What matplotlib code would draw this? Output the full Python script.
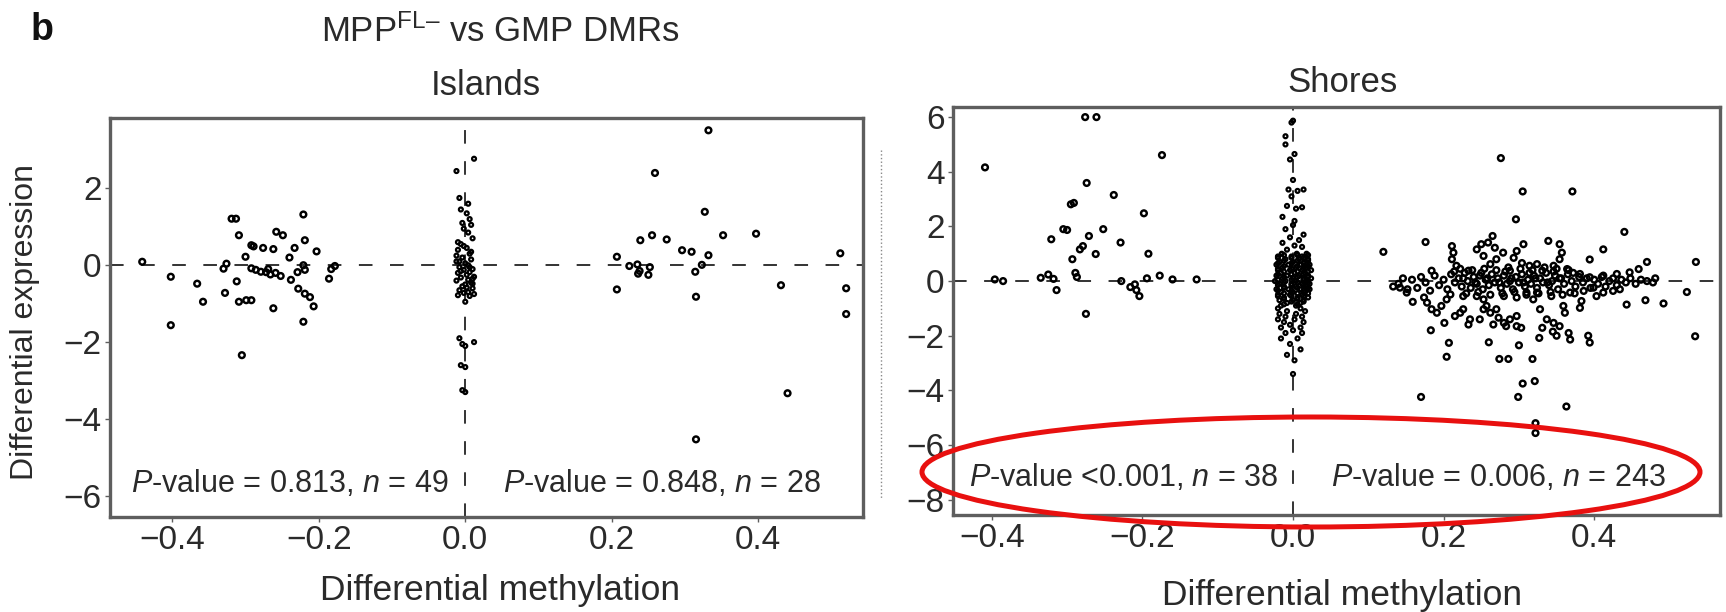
import matplotlib
matplotlib.use("Agg")
import matplotlib.pyplot as plt
from matplotlib.patches import Ellipse
from matplotlib.lines import Line2D

plt.rcParams['font.family'] = ['Liberation Sans', 'DejaVu Sans']
plt.rcParams['mathtext.fontset'] = 'custom'
plt.rcParams['mathtext.rm'] = 'Liberation Sans'
plt.rcParams['mathtext.it'] = 'Liberation Sans:italic'

# ---- Islands: negative DMRs, positive DMRs, genes without DMR at 0
isl_neg_x = [-0.441, -0.402, -0.402, -0.366, -0.358, -0.328, -0.330, -0.326, -0.319, -0.313,
             -0.309, -0.312, -0.309, -0.299, -0.292, -0.305, -0.300, -0.292, -0.289, -0.276,
             -0.262, -0.292, -0.286, -0.279, -0.272, -0.266, -0.259, -0.252, -0.269, -0.258,
             -0.249, -0.262, -0.233, -0.240, -0.229, -0.238, -0.221, -0.219, -0.203, -0.221,
             -0.219, -0.228, -0.219, -0.212, -0.207, -0.221, -0.183, -0.178, -0.186]
isl_neg_y = [0.09, -0.30, -1.56, -0.48, -0.95, -0.72, -0.09, 0.04, 1.21, 1.21,
             0.78, -0.42, -0.95, -0.91, -0.91, -2.34, 0.22, 0.52, 0.49, 0.45,
             0.42, -0.08, -0.12, -0.17, -0.18, -0.24, -0.20, -0.28, -0.10, 0.87,
             0.78, -1.12, 0.45, 0.20, -0.18, -0.38, 1.32, 0.65, 0.36, 0.00,
             -0.12, -0.61, -0.74, -0.83, -1.07, -1.47, -0.10, -0.02, -0.35]

isl_pos_x = [0.332, 0.259, 0.327, 0.352, 0.397, 0.239, 0.255, 0.275, 0.296, 0.309,
             0.332, 0.207, 0.224, 0.235, 0.238, 0.252, 0.236, 0.250, 0.314, 0.323,
             0.207, 0.315, 0.431, 0.440, 0.315, 0.512, 0.520, 0.520]
isl_pos_y = [3.51, 2.40, 1.39, 0.78, 0.82, 0.65, 0.78, 0.67, 0.39, 0.35,
             0.26, 0.22, -0.02, 0.02, -0.15, -0.05, -0.22, -0.25, -0.17, 0.01,
             -0.63, -0.82, -0.52, -3.33, -4.53, 0.31, -0.60, -1.27]

isl_zero_x = [0.012, -0.012, -0.008, 0.004, -0.006, 0.002, 0.006, -0.004, 0.008, -0.002,
              0.004, 0.010, -0.006, 0.002, -0.010, 0.006, -0.004, 0.008, -0.012, 0.000,
              0.004, -0.008, 0.010, -0.002, 0.006, -0.010, 0.002, 0.012, -0.006, 0.004,
              -0.012, 0.008, 0.000, -0.004, 0.010, -0.008, 0.004, -0.002, 0.012, -0.010,
              0.006, 0.000, -0.008, 0.012, -0.004, 0.000, -0.006, 0.000, -0.004, 0.000,
              -0.010, 0.008, -0.006, 0.010, 0.002, -0.012, 0.006, -0.002, 0.010, -0.008]
isl_zero_y = [2.77, 2.45, 1.75, 1.60, 1.45, 1.35, 1.20, 1.10, 1.05, 0.95,
              0.85, 0.70, 0.55, 0.45, 0.40, 0.30, 0.20, 0.15, 0.10, 0.05,
              0.00, -0.05, -0.10, -0.12, -0.18, -0.20, -0.25, -0.30, -0.32, -0.38,
              -0.40, -0.45, -0.50, -0.55, -0.60, -0.65, -0.70, -0.72, -0.75, -0.78,
              -0.80, -0.95, -1.90, -2.00, -2.05, -2.10, -2.60, -2.65, -3.25, -3.30,
              0.60, 0.35, -0.15, -0.35, -0.58, 0.25, -0.05, 0.50, -0.48, 0.10]

# ---- Shores
sho_neg_x = [-0.409, -0.276, -0.261, -0.174, -0.274, -0.238, -0.295, -0.291, -0.198, -0.300,
             -0.305, -0.321, -0.252, -0.271, -0.229, -0.279, -0.283, -0.262, -0.293, -0.192,
             -0.396, -0.385, -0.335, -0.325, -0.318, -0.314, -0.289, -0.287, -0.228, -0.216,
             -0.210, -0.204, -0.208, -0.194, -0.177, -0.160, -0.128, -0.275]
sho_neg_y = [4.16, 6.00, 6.00, 4.61, 3.59, 3.15, 2.81, 2.86, 2.48, 1.87,
             1.90, 1.53, 1.90, 1.65, 1.41, 1.28, 1.16, 0.99, 0.80, 1.00,
             0.06, 0.00, 0.12, 0.24, 0.08, -0.33, 0.30, 0.15, 0.00, -0.22,
             -0.12, -0.55, -0.33, 0.10, 0.20, 0.06, 0.06, -1.20]

sho_pos_x = [
    # upper part of the band
    0.211, 0.213, 0.211, 0.217, 0.244, 0.250, 0.259, 0.265, 0.268, 0.253,
    0.270, 0.279, 0.262, 0.297, 0.306, 0.293, 0.304, 0.314, 0.324, 0.339,
    0.354, 0.357, 0.354, 0.346, 0.331, 0.364, 0.288, 0.233, 0.184, 0.470,
    0.459, 0.447, 0.430, 0.412, 0.394, 0.381,
    # along zero
    0.133, 0.140, 0.146, 0.152, 0.158, 0.165, 0.170, 0.176, 0.182, 0.188,
    0.194, 0.200, 0.205, 0.210, 0.215, 0.220, 0.224, 0.228, 0.232, 0.236,
    0.240, 0.244, 0.248, 0.252, 0.256, 0.260, 0.264, 0.268, 0.272, 0.276,
    0.280, 0.284, 0.288, 0.292, 0.296, 0.300, 0.304, 0.308, 0.312, 0.316,
    0.320, 0.324, 0.328, 0.332, 0.336, 0.340, 0.344, 0.348, 0.352, 0.356,
    0.360, 0.365, 0.370, 0.375, 0.380, 0.385, 0.390, 0.395, 0.400, 0.405,
    0.410, 0.415, 0.420, 0.425, 0.430, 0.436, 0.442, 0.448, 0.455, 0.462,
    0.470, 0.478,
    0.222, 0.230, 0.238, 0.246, 0.254, 0.262, 0.270, 0.278, 0.286, 0.294,
    0.302, 0.310, 0.318, 0.326, 0.334, 0.342, 0.350, 0.358, 0.366, 0.374,
    0.226, 0.242, 0.258, 0.274, 0.290, 0.306, 0.322, 0.338, 0.354, 0.214,
    0.250, 0.282, 0.314, 0.346, 0.372,
    # lower part of the band
    0.142, 0.151, 0.159, 0.174, 0.178, 0.184, 0.191, 0.197, 0.204, 0.209,
    0.201, 0.215, 0.222, 0.226, 0.233, 0.235, 0.248, 0.253, 0.257, 0.262,
    0.270, 0.273, 0.280, 0.288, 0.297, 0.303, 0.297, 0.283, 0.266, 0.244,
    0.226, 0.253, 0.280, 0.297, 0.310, 0.319, 0.328, 0.324, 0.331, 0.327,
    0.337, 0.346, 0.354, 0.366, 0.368, 0.361, 0.359, 0.343, 0.368, 0.383,
    0.381, 0.403, 0.412, 0.425, 0.434, 0.386, 0.399,
    # outliers
    0.276, 0.305, 0.371, 0.296, 0.440, 0.176, 0.120, 0.412, 0.394, 0.535,
    0.523, 0.534, 0.492, 0.468, 0.443, 0.481, 0.183, 0.207, 0.204, 0.260,
    0.300, 0.274, 0.286, 0.318, 0.305, 0.321, 0.299, 0.170, 0.363, 0.322,
    0.322, 0.392, 0.394, 0.345, 0.350]
sho_pos_y = [
    1.28, 1.04, 0.80, 0.56, 1.16, 1.35, 1.41, 1.65, 1.22, 0.92,
    0.80, 1.04, 0.62, 1.10, 1.35, 0.85, 0.66, 0.56, 0.62, 1.47,
    1.35, 1.04, 0.80, 0.56, 0.38, 0.44, 0.38, 0.38, 0.38, 0.70,
    0.44, 0.32, 0.26, 0.20, 0.14, 0.26,
    -0.20, -0.10, 0.10, -0.30, 0.05, -0.25, 0.15, -0.05, -0.35, 0.20,
    -0.15, 0.05, -0.30, 0.25, -0.05, 0.10, -0.20, 0.30, 0.00, -0.25,
    0.15, -0.10, 0.20, -0.30, 0.05, -0.15, 0.25, -0.05, 0.10, -0.25,
    0.20, -0.10, 0.00, -0.30, 0.15, -0.05, 0.25, -0.20, 0.05, -0.10,
    0.20, -0.25, 0.10, -0.05, 0.30, -0.15, 0.00, 0.20, -0.30, 0.10,
    -0.10, 0.25, 0.00, -0.20, 0.15, -0.05, 0.10, -0.25, 0.05, -0.10,
    0.15, -0.20, 0.00, 0.10, -0.15, 0.05, -0.05, 0.10, -0.10, 0.05,
    0.00, -0.05,
    0.45, -0.45, 0.40, -0.40, 0.45, -0.50, 0.40, -0.45, 0.50, -0.40,
    0.45, -0.50, 0.40, -0.45, 0.50, -0.40, 0.45, -0.50, 0.40, -0.45,
    0.10, -0.05, 0.10, -0.05, 0.10, -0.05, 0.10, -0.05, 0.10, 0.35,
    0.30, 0.35, 0.30, 0.35, 0.30,
    -0.24, -0.42, -0.76, -0.60, -0.79, -1.03, -1.16, -0.91, -0.67, -0.49,
    -1.53, -1.28, -1.16, -1.03, -1.59, -1.40, -1.40, -1.03, -0.91, -1.16,
    -1.03, -1.34, -1.53, -1.40, -1.28, -1.71, -1.65, -1.65, -1.59, -0.55,
    -0.55, -0.67, -0.55, -0.60, -0.42, -0.67, -1.03, -0.42, -1.71, -2.08,
    -1.40, -1.53, -1.65, -1.90, -2.14, -1.16, -0.91, -0.55, -0.42, -0.73,
    -0.98, -0.55, -0.42, -0.36, -0.30, -0.36, -0.24,
    4.50, 3.28, 3.28, 2.26, 1.80, 1.43, 1.07, 1.16, 0.79, 0.70,
    -0.40, -2.02, -0.82, -0.70, -0.86, 0.10, -1.80, -2.26, -2.77, -2.24,
    -2.35, -2.85, -2.85, -2.85, -3.75, -3.66, -4.24, -4.24, -4.59, -5.20,
    -5.56, -2.00, -2.25, -1.85, -2.00]

sho_zero_x = [0.000, -0.002, -0.010, -0.010, 0.002, -0.004, 0.000, -0.006, 0.006, 0.014,
              -0.002, -0.008, 0.004, 0.012, -0.014, 0.002, 0.000, -0.010, 0.014, -0.004,
              0.008, -0.014, 0.002, 0.012, -0.008,
              -0.015, 0.005, 0.018, -0.020, -0.002, 0.012, -0.010, 0.008, 0.020, -0.018,
              0.000, 0.015, -0.022, -0.006, 0.010, 0.022, -0.014, 0.004, 0.018, -0.020,
              -0.004, 0.012, 0.024, -0.016, 0.002, 0.016, -0.022, -0.008, 0.008, 0.020,
              -0.014, 0.000, 0.014, 0.024, -0.024, -0.010, 0.004, 0.018, -0.018, -0.002,
              0.012, 0.022, -0.012, 0.004, 0.018, -0.022, -0.006, 0.010, 0.022, -0.016,
              0.000, 0.016, -0.020, -0.004, 0.012, -0.012, 0.006, 0.020, -0.018, 0.000,
              0.014, -0.008, 0.010, -0.016, 0.004, -0.020, 0.010, -0.008, 0.016, -0.018,
              0.004, -0.010, 0.012, -0.020, 0.002, -0.012, 0.014, -0.004, -0.016, 0.010,
              0.000, -0.010, 0.012, -0.016, 0.006, -0.004, 0.010, -0.008, 0.002, 0.000,
              -0.012, 0.006, 0.020, -0.020, -0.002, 0.014, -0.012, 0.006, 0.020, -0.020,
              -0.002, 0.014, -0.012, 0.006, 0.020, -0.020, -0.002, 0.014, -0.012, 0.006,
              0.020, -0.020, -0.002, 0.014, -0.012, 0.006, 0.020, -0.020, -0.002, 0.014,
              -0.012, 0.006, 0.020, -0.020, -0.002, 0.014, -0.012, 0.006, 0.020, -0.020,
              -0.002, 0.014, -0.012, 0.006, 0.020, -0.020, -0.002, 0.014, -0.012, 0.006,
              -0.002, 0.014, -0.012, 0.006]
sho_zero_y = [5.87, 5.80, 5.30, 5.00, 4.65, 4.45, 3.70, 3.35, 3.30, 3.35,
              3.10, 2.75, 2.65, 2.70, 2.35, 2.20, 2.05, 1.90, 1.70, 1.60,
              1.50, 1.40, 1.30, 1.25, 1.15,
              1.00, 1.00, 1.00, 0.90, 0.90, 0.90, 0.80, 0.80, 0.80, 0.70,
              0.70, 0.70, 0.60, 0.60, 0.60, 0.60, 0.50, 0.50, 0.50, 0.40,
              0.40, 0.40, 0.40, 0.30, 0.30, 0.30, 0.20, 0.20, 0.20, 0.20,
              0.10, 0.10, 0.10, 0.10, 0.00, 0.00, 0.00, 0.00, -0.10, -0.10,
              -0.10, -0.10, -0.20, -0.20, -0.20, -0.30, -0.30, -0.30, -0.30, -0.40,
              -0.40, -0.40, -0.50, -0.50, -0.50, -0.60, -0.60, -0.60, -0.70, -0.70,
              -0.70, -0.80, -0.80, -0.90, -0.90, -1.00, -1.00, -1.10, -1.10, -1.20,
              -1.20, -1.30, -1.30, -1.40, -1.40, -1.50, -1.50, -1.60, -1.70, -1.70,
              -1.80, -1.90, -1.90, -2.10, -2.10, -2.30, -2.50, -2.70, -2.90, -3.40,
              0.95, 0.95, 0.95, 0.85, 0.85, 0.85, 0.75, 0.75, 0.75, 0.65,
              0.65, 0.65, 0.55, 0.55, 0.55, 0.45, 0.45, 0.45, 0.35, 0.35,
              0.35, 0.25, 0.25, 0.25, 0.15, 0.15, 0.15, 0.05, 0.05, 0.05,
              -0.05, -0.05, -0.05, -0.15, -0.15, -0.15, -0.25, -0.25, -0.25, -0.35,
              -0.35, -0.35, -0.45, -0.45, -0.45, -0.55, -0.55, -0.55, -0.65, -0.65,
              -0.75, -0.75, -0.85, -0.85]

x_ticks = [-0.4, -0.2, 0.0, 0.2, 0.4]
isl_y_ticks = [-6, -4, -2, 0, 2]
sho_y_ticks = [-8, -6, -4, -2, 0, 2, 4, 6]

W, H = 1726, 612
TXT = '#2a2a2a'
SPINE = '#5e5e5e'

fig = plt.figure(figsize=(W / 100, H / 100), dpi=100)
ax1 = fig.add_axes([110 / W, 1 - 517 / H, 753 / W, 399 / H])
ax2 = fig.add_axes([953 / W, 1 - 515 / H, 767 / W, 408 / H])


def style_axis(ax, yticks, xlim, ylim):
    ax.set_xlim(*xlim)
    ax.set_ylim(*ylim)
    ax.set_xticks(x_ticks)
    ax.set_xticklabels([f'{t:.1f}'.replace('-', '\u2212') for t in x_ticks])
    ax.set_yticks(yticks)
    ax.set_yticklabels([str(t).replace('-', '\u2212') for t in yticks])
    ax.tick_params(direction='out', length=3.5, width=1, color=SPINE,
                   labelsize=24, labelcolor=TXT, pad=2.5)
    for s in ax.spines.values():
        s.set_linewidth(2.4)
        s.set_color(SPINE)
    ax.axhline(0, color='#333333', lw=1.4, ls=(0, (7, 9)), zorder=1)
    ax.axvline(0, color='#333333', lw=1.4, ls=(0, (7, 9)), zorder=1)


def dots(ax, x, y, s=17, lw=1.75):
    ax.scatter(x, y, s=s, facecolors='none', edgecolors='#000000',
               linewidths=lw, zorder=3)


style_axis(ax1, isl_y_ticks, (-0.485, 0.543), (-6.55, 3.83))
style_axis(ax2, sho_y_ticks, (-0.4515, 0.567), (-8.56, 6.37))

dots(ax1, isl_neg_x, isl_neg_y)
dots(ax1, isl_pos_x, isl_pos_y)
dots(ax1, isl_zero_x, isl_zero_y, s=8, lw=1.6)
dots(ax2, sho_neg_x, sho_neg_y)
dots(ax2, sho_pos_x, sho_pos_y)
dots(ax2, sho_zero_x, sho_zero_y, s=8, lw=1.6)

# axis labels, placed at the baselines measured on the reference
ax1.set_xlabel('Differential methylation', fontsize=25.5, color=TXT)
ax1.xaxis.set_label_coords(0.518, -0.208)
ax1.xaxis.label.set_va('baseline')
ax2.set_xlabel('Differential methylation', fontsize=25.5, color=TXT)
ax2.xaxis.set_label_coords(0.507, -0.221)
ax2.xaxis.label.set_va('baseline')

fig.text(486 / W, 1 - 95 / H, 'Islands', fontsize=25, color=TXT, ha='center', va='baseline')
fig.text(1342 / W, 1 - 92 / H, 'Shores', fontsize=25, color=TXT, ha='center', va='baseline')

ptxt = dict(fontsize=22, color=TXT, ha='center', va='center')
ax1.text(0.239, 0.085, r'$P$-value = 0.813, $n$ = 49', transform=ax1.transAxes, **ptxt)
ax1.text(0.733, 0.085, r'$P$-value = 0.848, $n$ = 28', transform=ax1.transAxes, **ptxt)
ax2.text(0.223, 0.091, r'$P$-value <0.001, $n$ = 38', transform=ax2.transAxes, **ptxt)
ax2.text(0.711, 0.091, r'$P$-value = 0.006, $n$ = 243', transform=ax2.transAxes, **ptxt)

fig.text(25 / W, 1 - 322 / H, 'Differential expression', rotation=90,
         fontsize=23, color=TXT, ha='center', va='center')
fig.text(42 / W, 1 - 30 / H, 'b', fontsize=27, fontweight='bold', color='#111111',
         ha='center', va='center')
fig.text(500 / W, 1 - 32 / H, 'MPP$^{\\mathrm{FL\u2013}}$ vs GMP DMRs',
         fontsize=25, color=TXT, ha='center', va='center')

# faint leftover dotted stroke between panels
fig.add_artist(Line2D([881 / W, 881 / W], [1 - 150 / H, 1 - 498 / H],
                      transform=fig.transFigure, color='#888888', lw=1, ls=':'))

# red highlight ellipse around the Shores P-values
fig.add_artist(Ellipse((1311 / W, 1 - 472 / H), 778 / W, 110 / H,
                       transform=fig.transFigure, fill=False,
                       edgecolor='#e8100f', lw=3.6, zorder=10))

fig.savefig('out.png', dpi=100)
